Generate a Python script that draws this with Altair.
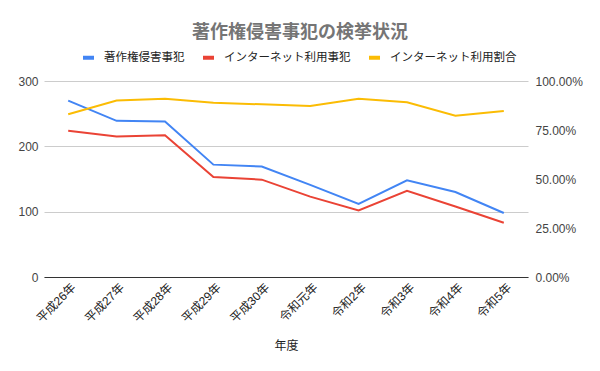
import altair as alt
import pandas as pd

years = ["平成26年", "平成27年", "平成28年", "平成29年", "平成30年",
         "令和元年", "令和2年", "令和3年", "令和4年", "令和5年"]
infringement = [270, 239, 238, 172, 169, 141, 112, 148, 130, 98]
internet = [224, 215, 217, 153, 149, 123, 102, 132, 108, 83]
ratio = [0.830, 0.900, 0.910, 0.889, 0.881, 0.872, 0.910, 0.891, 0.823, 0.847]

series = ["著作権侵害事犯", "インターネット利用事犯", "インターネット利用割合"]
colors = ["#4285F4", "#EA4335", "#FBBC04"]

FONT = "Arial, Liberation Sans, Noto Sans CJK JP, sans-serif"

df = pd.DataFrame({
    "年度": years,
    series[0]: infringement,
    series[1]: internet,
    series[2]: ratio,
})

color = alt.Color(
    "系列:N",
    scale=alt.Scale(domain=series, range=colors),
    legend=alt.Legend(
        title=None, orient="none", direction="horizontal",
        legendX=37, legendY=-31,
        symbolType="stroke", symbolStrokeWidth=4, symbolSize=121,
        labelFontSize=11.5, labelColor="#222222", labelFont=FONT,
        columnPadding=10, labelOffset=8,
    ),
)

x = alt.X(
    "年度:N", sort=years, scale=alt.Scale(paddingOuter=0.5),
    axis=alt.Axis(title="年度", labelAngle=-45, labelAlign="right",
                  labelBaseline="middle", labelFontSize=12, labelColor="#222222",
                  labelFont=FONT, titleFont=FONT, titleFontSize=12,
                  titleFontWeight="normal", titleColor="#222222",
                  titlePadding=16, ticks=False, labelPadding=8, labelOffset=5,
                  domainColor="#333333", domainWidth=1.2, grid=False),
)

left = alt.Chart(df).transform_fold(
    [series[0], series[1]], as_=["系列", "値"]
).mark_line(strokeWidth=2).encode(
    x=x,
    y=alt.Y("値:Q", scale=alt.Scale(domain=[0, 300]),
            axis=alt.Axis(title=None, values=[0, 100, 200, 300], grid=True,
                          gridColor="#cccccc", domain=False, ticks=False,
                          labelFontSize=12, labelColor="#444444", labelFont=FONT,
                          labelPadding=6)),
    color=color,
)

right = alt.Chart(df).transform_fold(
    [series[2]], as_=["系列", "値"]
).mark_line(strokeWidth=2).encode(
    x=x,
    y=alt.Y("値:Q", scale=alt.Scale(domain=[0, 1]),
            axis=alt.Axis(title=None, orient="right", values=[0, 0.25, 0.5, 0.75, 1],
                          format=".2%", grid=False, domain=False, ticks=False,
                          labelFontSize=12, labelColor="#444444", labelFont=FONT,
                          labelPadding=7)),
    color=color,
)

chart = alt.layer(left, right).resolve_scale(y="independent").properties(
    width=484, height=196,
    autosize=alt.AutoSizeParams(type="none"),
    padding={"left": 36, "top": 73, "right": 64, "bottom": 86},
    title=alt.TitleParams(
        "著作権侵害事犯の検挙状況", fontSize=18, fontWeight="bold",
        color="#757575", font=FONT, anchor="middle", dx=14, offset=8,
    ),
).configure_view(stroke=None)

chart.save("out.html", embed_options={"renderer": "svg", "actions": False})
